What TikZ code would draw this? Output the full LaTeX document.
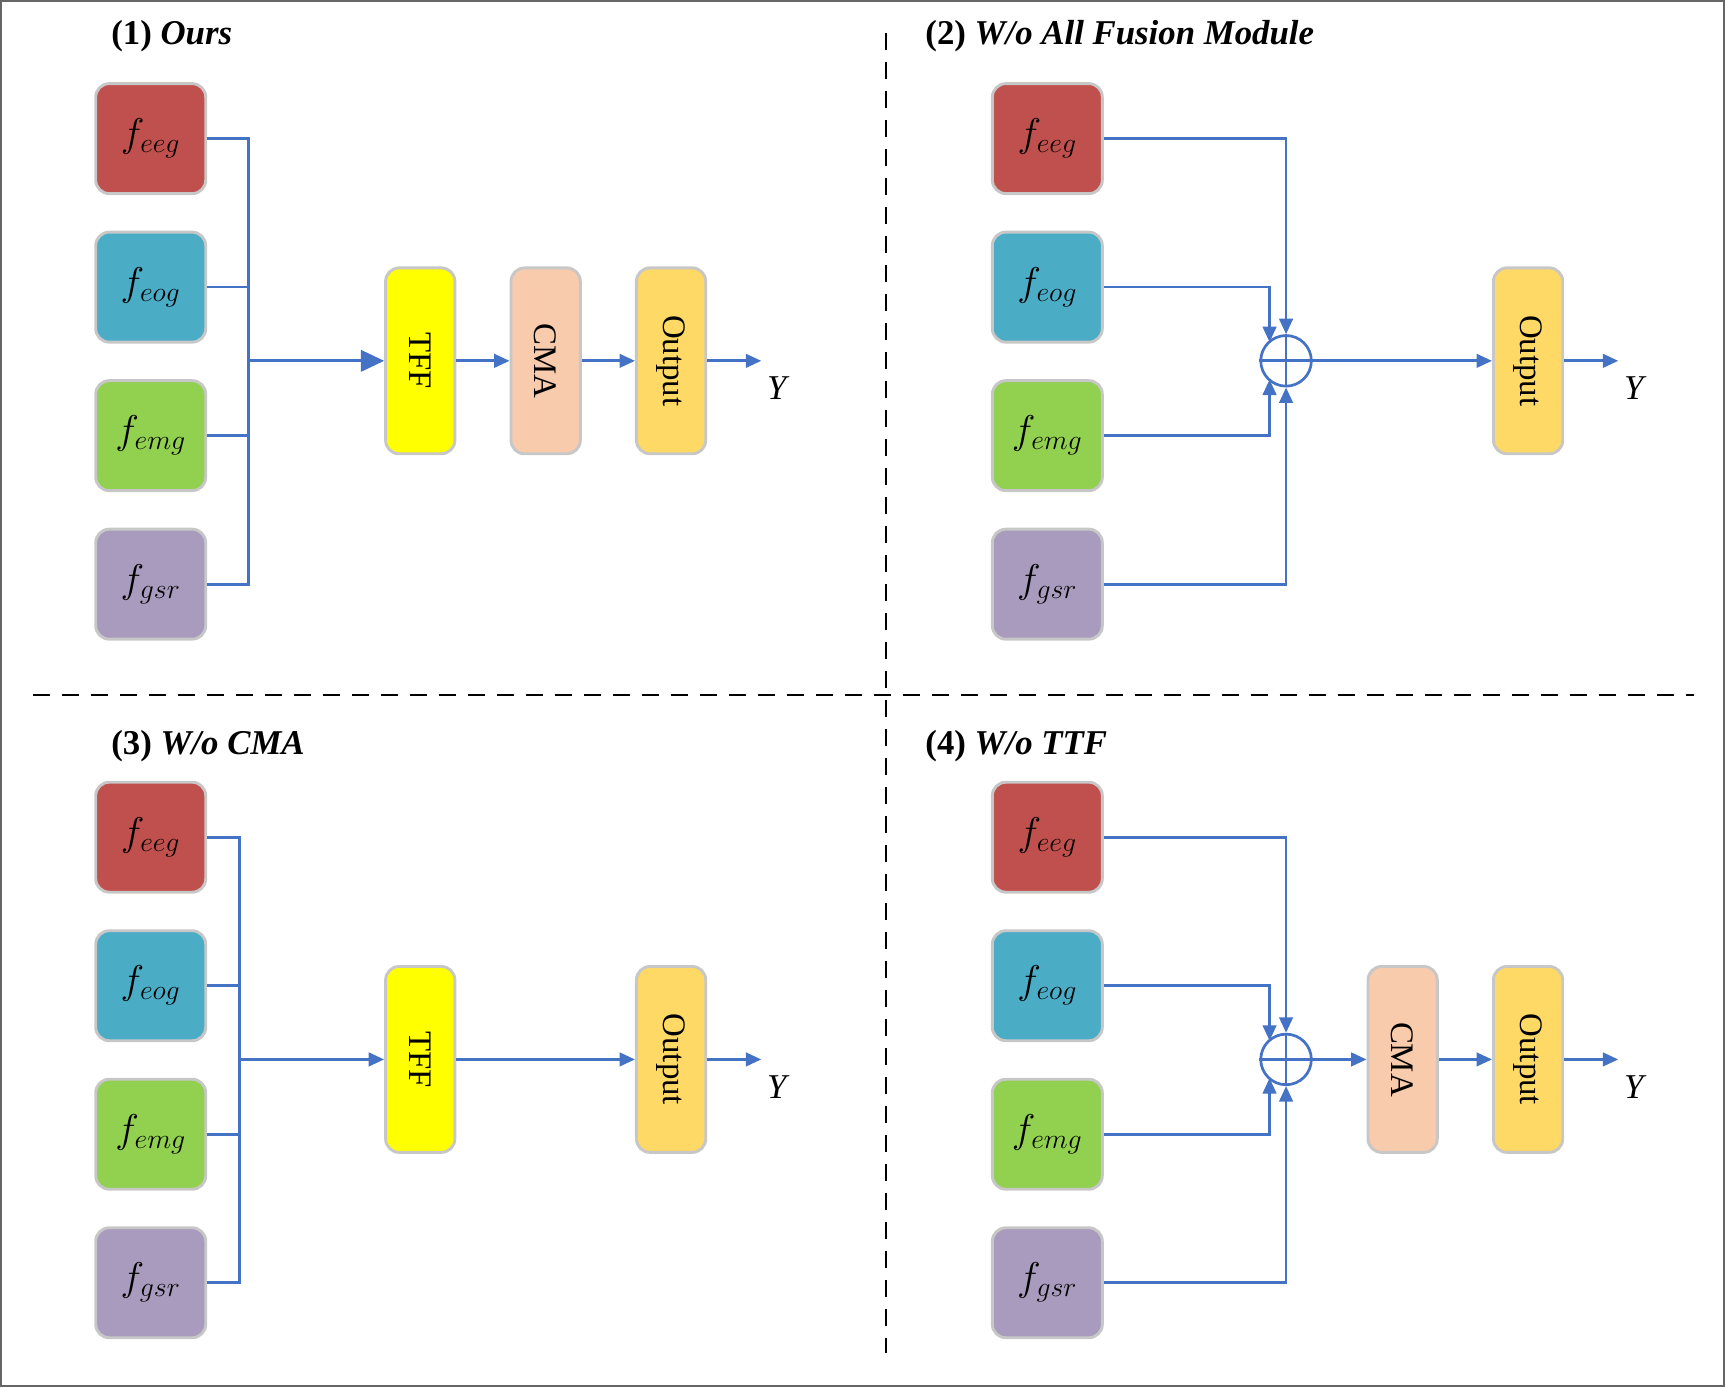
\documentclass[tikz,border=0pt]{standalone}
\usepackage{fontspec}
\setmainfont{Liberation Serif}
\usetikzlibrary{arrows.meta,calc}
\definecolor{cred}{HTML}{C0504D}
\definecolor{cblue}{HTML}{4BACC6}
\definecolor{cgreen}{HTML}{92D050}
\definecolor{cpurp}{HTML}{A99BBD}
\definecolor{cyel}{HTML}{FFFF00}
\definecolor{cpeach}{HTML}{F8CBAD}
\definecolor{corange}{HTML}{FFD966}
\definecolor{cline}{HTML}{4472C4}
\tikzset{
 fbox/.style={draw=black!22,line width=1.5pt,rounded corners=7pt,minimum width=2cm,minimum height=2cm,inner sep=0pt,font=\fontsize{22}{26}\selectfont},
 mbox/.style={draw=black!22,line width=1.5pt,rounded corners=7pt,minimum width=1.26cm,minimum height=3.38cm,inner sep=0pt},
 mlab/.style={rotate=-90,font=\fontsize{17}{20}\selectfont},
 conn/.style={draw=cline,line width=1.4pt},
 arr/.style={conn,-{Triangle[length=8pt,width=7pt]}},
 bigarr/.style={conn,-{Triangle[length=12pt,width=11pt]}},
 plus/.style={circle,draw=cline,line width=1.4pt,minimum size=0.92cm,inner sep=0pt},
 ttl/.style={anchor=west,font=\fontsize{18}{22}\selectfont\bfseries},
 ylab/.style={font=\fontsize{18}{22}\selectfont\itshape},
 sep/.style={draw=black,line width=1pt,dash pattern=on 9pt off 6pt}
}
\begin{document}
\begin{tikzpicture}[x=0.02cm,y=-0.02cm]
\useasboundingbox (0,0) rectangle (1568,1261);
\draw[black!60,line width=1pt] (1,1) rectangle (1567,1260);
\draw[sep] (805,30) -- (805,1230);
\draw[sep] (30,632) -- (1540,632);
% feature boxes
\foreach \p/\x/\dy in {a/137/0,b/952/0,c/137/635,d/952/635}{
 \node[fbox,fill=cred] (\p1) at (\x,126+\dy) {$f_{eeg}$};
 \node[fbox,fill=cblue] (\p2) at (\x,261+\dy) {$f_{eog}$};
 \node[fbox,fill=cgreen] (\p3) at (\x,396+\dy) {$f_{emg}$};
 \node[fbox,fill=cpurp] (\p4) at (\x,531+\dy) {$f_{gsr}$};
}
\node[ttl] (t1) at (95,33) {(1) \textit{Ours}};
\node[ttl] (t2) at (835,33) {(2) \textit{W/o All Fusion Module}};
\node[ttl] (t3) at (95,678) {(3) \textit{W/o CMA}};
\node[ttl] (t4) at (835,678) {(4) \textit{W/o TTF}};
% Panel 1
\node[mbox,fill=cyel] (tff1) at (382,328) {}; \node[mlab] at (tff1) {TFF};
\node[mbox,fill=cpeach] (cma1) at (496,328) {}; \node[mlab] at (cma1) {CMA};
\node[mbox,fill=corange] (out1) at (610,328) {}; \node[mlab] at (out1) {Output};
\coordinate (y1) at (692,328); \node[ylab] at (706,353) {Y};
\draw[conn] (a1.east) -| (226,531) -- (a4.east);
\draw[conn] (a2.east) -- (226,261);
\draw[conn] (a3.east) -- (226,396);
\draw[bigarr] (226,328) -- (tff1.west);
\draw[arr] (tff1) -- (cma1);
\draw[arr] (cma1) -- (out1);
\draw[arr] (out1) -- (y1);
% Panel 2
\node[plus] (p2) at (1169,328) {};
\draw[conn] (p2.north) -- (p2.south) (p2.west) -- (p2.east);
\node[mbox,fill=corange] (out2) at (1389,328) {}; \node[mlab] at (out2) {Output};
\coordinate (y2) at (1471,328); \node[ylab] at (1485,353) {Y};
\coordinate (p2a) at (1154,311); \coordinate (p2b) at (1154,345);
\draw[arr] (b1.east) -| (p2.north);
\draw[arr] (b4.east) -| (p2.south);
\draw[arr] (b2.east) -| (p2a);
\draw[arr] (b3.east) -| (p2b);
\draw[arr] (p2.east) -- (out2.west);
\draw[arr] (out2) -- (y2);
% Panel 3
\node[mbox,fill=cyel] (tff3) at (382,963) {}; \node[mlab] at (tff3) {TFF};
\node[mbox,fill=corange] (out3) at (610,963) {}; \node[mlab] at (out3) {Output};
\coordinate (y3) at (692,963); \node[ylab] at (706,988) {Y};
\draw[conn] (c1.east) -| (218,1166) -- (c4.east);
\draw[conn] (c2.east) -- (218,896);
\draw[conn] (c3.east) -- (218,1031);
\draw[arr] (218,963) -- (tff3.west);
\draw[arr] (tff3) -- (out3);
\draw[arr] (out3) -- (y3);
% Panel 4
\node[plus] (p4) at (1169,963) {};
\draw[conn] (p4.north) -- (p4.south) (p4.west) -- (p4.east);
\node[mbox,fill=cpeach] (cma4) at (1275,963) {}; \node[mlab] at (cma4) {CMA};
\node[mbox,fill=corange] (out4) at (1389,963) {}; \node[mlab] at (out4) {Output};
\coordinate (y4) at (1471,963); \node[ylab] at (1485,988) {Y};
\coordinate (p4a) at (1154,946); \coordinate (p4b) at (1154,980);
\draw[arr] (d1.east) -| (p4.north);
\draw[arr] (d4.east) -| (p4.south);
\draw[arr] (d2.east) -| (p4a);
\draw[arr] (d3.east) -| (p4b);
\draw[arr] (p4.east) -- (cma4.west);
\draw[arr] (cma4) -- (out4);
\draw[arr] (out4) -- (y4);
\end{tikzpicture}
\end{document}
